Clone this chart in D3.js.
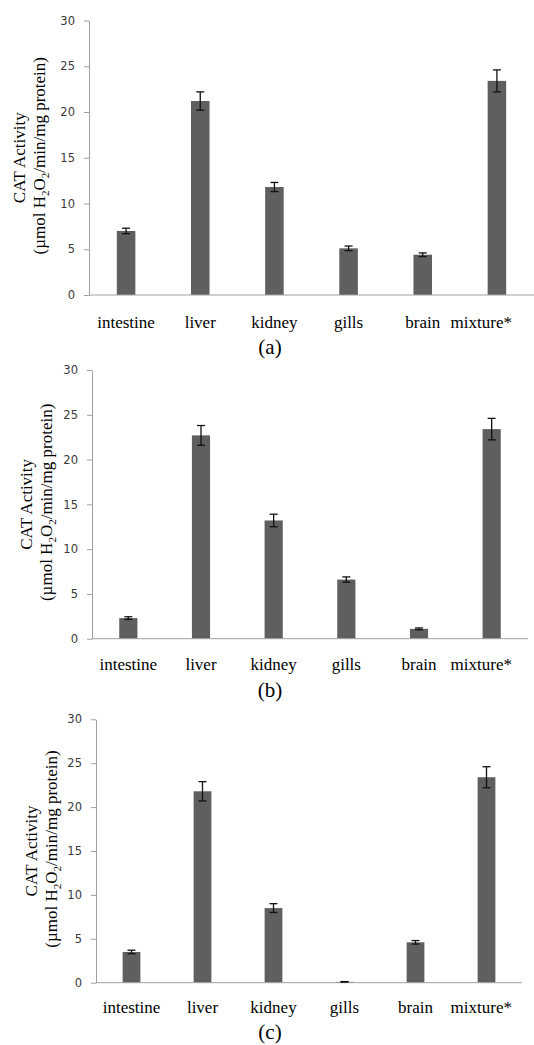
<!DOCTYPE html>
<html>
<head>
<meta charset="utf-8">
<script src="https://cdn.jsdelivr.net/npm/d3@7"></script>
<style>
  body { margin: 0; background: #fff; }
  svg { display: block; }
  .serif { font-family: "Liberation Serif", "Times New Roman", serif; }
</style>
</head>
<body>
<div id="chart"></div>
<script>
// data
const categories = ["intestine", "liver", "kidney", "gills", "brain", "mixture*"];
const meansA = [7.0, 21.2, 11.8, 5.1, 4.4, 23.4];
const errA   = [0.3, 1.0, 0.5, 0.25, 0.2, 1.2];
const meansB = [2.3, 22.7, 13.2, 6.6, 1.1, 23.4];
const errB   = [0.15, 1.1, 0.7, 0.3, 0.1, 1.2];
const meansC = [3.5, 21.8, 8.5, 0.1, 4.6, 23.4];
const errC   = [0.2, 1.1, 0.5, 0.03, 0.2, 1.2];
const yTicks = [0, 5, 10, 15, 20, 25, 30];
const panelLabels = ["(a)", "(b)", "(c)"];

const W = 534, H = 1045;

const svg = d3.select("#chart").append("svg")
  .attr("width", W)
  .attr("height", H);

// each panel is a little different in size in the original
const panels = [
  {means: meansA, err: errA, label: panelLabels[0], top: 20.5, bottom: 295,   left: 89, right: 534, titleX: 19, catDy: 33, labDy: 59},
  {means: meansB, err: errB, label: panelLabels[1], top: 370,  bottom: 638.7, left: 92, right: 528, titleX: 26, catDy: 31, labDy: 58},
  {means: meansC, err: errC, label: panelLabels[2], top: 719.3, bottom: 982.7, left: 96, right: 522, titleX: 31, catDy: 30, labDy: 56}
];

panels.forEach(function(p) {
  const g = svg.append("g");

  const x = d3.scaleBand()
    .domain(categories)
    .range([p.left, p.right])
    .paddingInner(0.75)
    .paddingOuter(0.375);

  const y = d3.scaleLinear()
    .domain([0, 30])
    .range([p.bottom, p.top]);

  // y axis
  const yAxis = g.append("g")
    .attr("transform", "translate(" + p.left + ",0)")
    .call(d3.axisLeft(y).tickValues(yTicks).tickSize(5).tickSizeOuter(0).tickPadding(9));
  yAxis.select(".domain").attr("stroke", "#a0a0a0");
  yAxis.selectAll(".tick line").attr("stroke", "#a0a0a0");
  yAxis.selectAll(".tick text")
    .attr("font-family", "DejaVu Sans")
    .attr("font-size", 11.5)
    .attr("fill", "#3a3a3a");

  // bars
  const data = categories.map(function(c, i) { return {cat: c, v: p.means[i], e: p.err[i]}; });

  g.selectAll(".bar")
    .data(data)
    .enter().append("rect")
    .attr("class", "bar")
    .attr("x", function(d) { return x(d.cat); })
    .attr("width", x.bandwidth())
    .attr("y", function(d) { return y(d.v); })
    .attr("height", function(d) { return y(0) - y(d.v); })
    .attr("fill", "#5f5f5f");

  // x axis line (no ticks)
  g.append("line")
    .attr("x1", p.left).attr("x2", p.right)
    .attr("y1", y(0)).attr("y2", y(0))
    .attr("stroke", "#a0a0a0");

  // error bars
  const eb = g.selectAll(".err")
    .data(data)
    .enter().append("g")
    .attr("class", "err")
    .attr("stroke", "#111")
    .attr("stroke-width", 1.3);
  const cx = function(d) { return x(d.cat) + x.bandwidth() / 2; };
  eb.append("line")
    .attr("x1", cx).attr("x2", cx)
    .attr("y1", function(d) { return y(d.v + d.e); })
    .attr("y2", function(d) { return y(d.v - d.e); });
  eb.append("line")
    .attr("x1", function(d) { return cx(d) - 4; }).attr("x2", function(d) { return cx(d) + 4; })
    .attr("y1", function(d) { return y(d.v + d.e); })
    .attr("y2", function(d) { return y(d.v + d.e); });
  eb.append("line")
    .attr("x1", function(d) { return cx(d) - 4; }).attr("x2", function(d) { return cx(d) + 4; })
    .attr("y1", function(d) { return y(d.v - d.e); })
    .attr("y2", function(d) { return y(d.v - d.e); });

  // category labels, kept inside x=512 like the original
  g.selectAll(".cat")
    .data(categories)
    .enter().append("text")
    .attr("class", "cat serif")
    .attr("font-size", 17)
    .attr("text-anchor", "middle")
    .attr("y", y(0) + p.catDy)
    .text(function(d) { return d; })
    .attr("x", function(d) {
      const w = this.getComputedTextLength();
      return Math.min(x(d) + x.bandwidth() / 2, 512 - w / 2);
    });

  // panel label
  g.append("text")
    .attr("class", "serif")
    .attr("font-size", 21)
    .attr("text-anchor", "middle")
    .attr("x", 270)
    .attr("y", y(0) + p.labDy)
    .text(p.label);

  // y title, two rotated lines
  const midY = (p.top + p.bottom) / 2;
  g.append("text")
    .attr("class", "serif")
    .attr("font-size", 17)
    .attr("text-anchor", "middle")
    .attr("transform", "translate(" + (p.titleX + 6) + "," + midY + ") rotate(-90)")
    .text("CAT Activity");
  const t2 = g.append("text")
    .attr("class", "serif")
    .attr("font-size", 17)
    .attr("text-anchor", "middle")
    .attr("transform", "translate(" + (p.titleX + 26) + "," + (midY - 2) + ") rotate(-90)");
  t2.append("tspan").text("(µmol H");
  t2.append("tspan").attr("font-size", 11).attr("dy", 4).text("2");
  t2.append("tspan").attr("dy", -4).text("O");
  t2.append("tspan").attr("font-size", 11).attr("dy", 4).text("2");
  t2.append("tspan").attr("dy", -4).text("/min/mg protein)");
});
</script>
</body>
</html>
